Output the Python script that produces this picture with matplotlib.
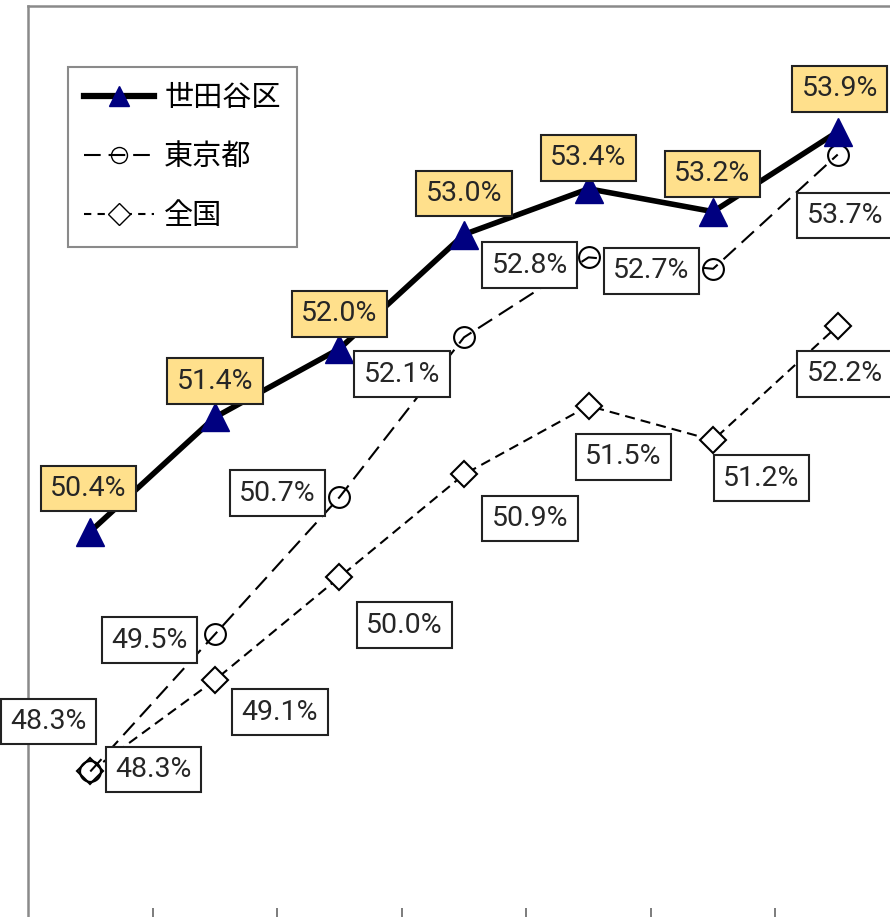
import matplotlib
matplotlib.use("Agg")
import matplotlib.pyplot as plt
from matplotlib.lines import Line2D

plt.rcParams['font.family'] = ['Noto Sans CJK JP', 'DejaVu Sans']

# ---- data ----
series_names = ['世田谷区', '東京都', '全国']
setagaya = [50.4, 51.4, 52.0, 53.0, 53.4, 53.2, 53.9]
tokyo = [48.3, 49.5, 50.7, 52.1, 52.8, 52.7, 53.7]
zenkoku = [48.3, 49.1, 50.0, 50.9, 51.5, 51.2, 52.2]

# ---- label offsets (pixels) ----
off_setagaya = [(-2, 43), (0, 36), (0, 35), (0, 41), (0, 31), (-1, 38), (2, 43)]
off_tokyo = [(-42, 50), (-65, -6), (-62, 4), (-62, -37), (-59, -8), (-62, -2), (7, -61)]
off_zenkoku = [(63, 2), (65, -32), (65, -48), (66, -44), (35, -51), (48, -38), (7, -48)]

W, H = 890, 917
fig = plt.figure(figsize=(W / 100, H / 100), dpi=100)
ax = fig.add_axes([28 / W, (H - 920) / H, (900 - 28) / W, 914 / H])

x = list(range(len(setagaya)))

ax.plot(x, zenkoku, color='black', lw=1.5, linestyle=(0, (4.8, 2.9)),
        marker='D', markersize=13.5, markerfacecolor='white',
        markeredgecolor='black', markeredgewidth=1.5, zorder=2)
ax.plot(x, tokyo, color='black', lw=1.5, linestyle=(0, (8.0, 3.8)),
        marker='o', markersize=15, markerfacecolor='none',
        markeredgecolor='black', markeredgewidth=1.5, zorder=3)
ax.plot(x, setagaya, color='black', lw=4, solid_capstyle='butt',
        marker='^', markersize=19.5, markerfacecolor='#000080',
        markeredgecolor='#000080', zorder=4)

lab_family = ['Roboto', 'DejaVu Sans']

def label(vals, offs, face):
    for i, (v, (dx, dy)) in enumerate(zip(vals, offs)):
        ax.annotate(f'{v:.1f}%', xy=(i, v), xytext=(dx, dy),
                    textcoords='offset pixels', ha='center', va='center',
                    family=lab_family, fontsize=20.5, color='#262626',
                    bbox=dict(boxstyle='square,pad=0.33', fc=face,
                              ec='#222222', lw=1.5),
                    zorder=6)

label(zenkoku, off_zenkoku, 'white')
label(tokyo, off_tokyo, 'white')
label(setagaya, off_setagaya, '#FFE08C')

ax.set_xlim(-0.5, len(x) - 0.5)
ax.set_ylim(47, 55)
ax.set_xticks([i + 0.5 for i in range(len(x))])
ax.set_xticklabels([])
ax.set_yticks([])
ax.tick_params(axis='x', direction='in', length=9, width=1.2, color='#666666')
for s in ax.spines.values():
    s.set_color('#8a8a8a')
    s.set_linewidth(1.8)

handles = [
    Line2D([], [], color='black', lw=4.5, marker='^', markersize=14.5,
           markerfacecolor='#000080', markeredgecolor='#000080'),
    Line2D([], [], color='black', lw=1.5, linestyle=(0, (8.0, 3.8)), marker='o',
           markersize=11.5, markerfacecolor='none', markeredgecolor='black'),
    Line2D([], [], color='black', lw=1.5, linestyle=(0, (3.5, 3.0)), marker='D',
           markersize=11, markerfacecolor='white', markeredgecolor='black'),
]
leg = fig.legend(handles, series_names, loc='upper left',
                 bbox_to_anchor=(68 / W, 1 - 67 / H), borderaxespad=0,
                 prop=dict(family=['Noto Sans CJK JP'], size=21),
                 handlelength=2.4, handletextpad=0.35, labelspacing=1.0,
                 borderpad=0.55, fancybox=False, framealpha=1, numpoints=1)
leg.get_frame().set_edgecolor('#8a8a8a')
leg.get_frame().set_linewidth(1.5)

fig.savefig('out.png', dpi=100)
